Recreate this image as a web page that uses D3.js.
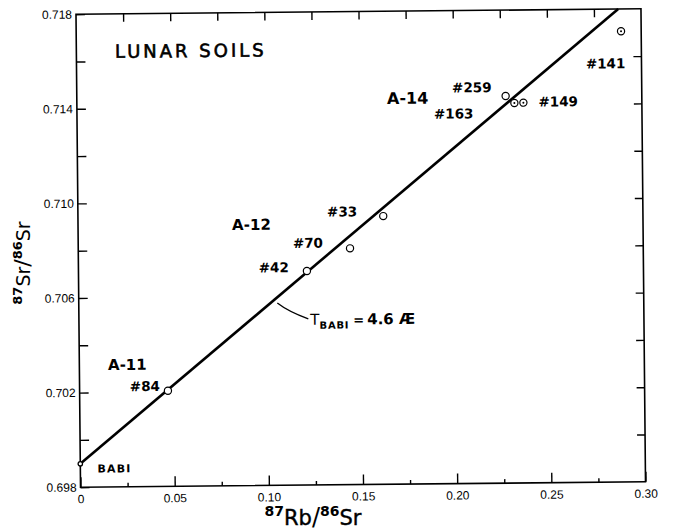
<!DOCTYPE html>
<html>
<head>
<meta charset="utf-8">
<script src="https://cdn.jsdelivr.net/npm/d3@7"></script>
<style>
  html, body { margin: 0; padding: 0; background: #fff; }
  svg { display: block; }
</style>
</head>
<body>
<svg id="chart" width="674" height="531"></svg>
<script>
// Lunar soil Rb–Sr data: 87Rb/86Sr vs 87Sr/86Sr
const sampleLabels = ["#84", "#42", "#70", "#33", "#259", "#163", "#149", "#141"];
const rbSr = [0.0469, 0.1213, 0.1443, 0.1621, 0.2277, 0.2323, 0.2371, 0.2893];
const srSr = [0.70204, 0.70705, 0.70799, 0.70934, 0.71437, 0.71407, 0.71408, 0.71706];
const dotted = [false, false, false, false, false, true, true, true];

// Basaltic achondrite best initial and the 4.6 Æ isochron
const babi = { rb: 0, sr: 0.69899, label: "BABI" };
const ageYears = 4.6e9;
const lambdaRb = 1.39e-11;

// Mission groups
const groupLabels = ["A-11", "A-12", "A-14"];
const groupX = [0.0152, 0.0818, 0.1647];
const groupY = [0.70294, 0.70881, 0.71408];

const xTicks = [0, 0.05, 0.10, 0.15, 0.20, 0.25, 0.30];
const xMinor = [0.025, 0.075, 0.125, 0.175, 0.225, 0.275];
const yTicks = [0.698, 0.702, 0.706, 0.710, 0.714, 0.718];
const yMinor = [0.700, 0.704, 0.708, 0.712, 0.716];

const W = 674, H = 531;
const frame = { left: 78.25, right: 643.25, top: 11.5, bottom: 484.5 };
const cx = (frame.left + frame.right) / 2, cy = (frame.top + frame.bottom) / 2;

const svg = d3.select("#chart");
const g = svg.append("g").attr("transform", `rotate(-0.55, ${cx}, ${cy})`);

const x = d3.scaleLinear().domain([0, 0.30]).range([frame.left, frame.right]);
const y = d3.scaleLinear().domain([0.698, 0.718]).range([frame.bottom, frame.top]);

const tickFont = "'Liberation Sans', Arial, sans-serif";

// Bottom axis: labelled major ticks plus short minor ticks, all pointing inward
g.append("g").attr("transform", `translate(0,${frame.bottom})`)
  .call(d3.axisBottom(x).tickValues(xTicks).tickSize(-10).tickPadding(7.5)
    .tickFormat(d => d === 0 ? "0" : d3.format(".2f")(d)));
g.append("g").attr("transform", `translate(0,${frame.bottom})`)
  .call(d3.axisBottom(x).tickValues(xMinor).tickSize(-4).tickFormat(""));

// Top axis: ticks every 0.025
g.append("g").attr("transform", `translate(0,${frame.top})`)
  .call(d3.axisTop(x).tickValues(xTicks.concat(xMinor).filter(v => v > 0 && v < 0.30)).tickSize(-8).tickFormat(""));

// Left axis
g.append("g").attr("transform", `translate(${frame.left},0)`)
  .call(d3.axisLeft(y).tickValues(yTicks).tickSize(-9).tickPadding(4).tickFormat(d3.format(".3f")));
g.append("g").attr("transform", `translate(${frame.left},0)`)
  .call(d3.axisLeft(y).tickValues(yMinor).tickSize(-9).tickFormat(""));

// Right axis: ticks every 0.002
g.append("g").attr("transform", `translate(${frame.right},0)`)
  .call(d3.axisRight(y).tickValues(yTicks.concat(yMinor).filter(v => v > 0.698 && v < 0.718)).tickSize(-8).tickFormat(""));

g.selectAll(".domain").remove();
g.selectAll(".tick line").attr("stroke", "#000").attr("stroke-width", 1.4);
g.selectAll(".tick text").attr("font-family", tickFont).attr("font-size", 12).attr("fill", "#000");

// Frame
g.append("rect")
  .attr("x", frame.left).attr("y", frame.top)
  .attr("width", frame.right - frame.left).attr("height", frame.bottom - frame.top)
  .attr("fill", "none").attr("stroke", "#000").attr("stroke-width", 1.6);

// Isochron through BABI
const slope = Math.exp(lambdaRb * ageYears) - 1;
const xEnd = (y.domain()[1] - babi.sr) / slope;
const lineGen = d3.line().x(d => x(d[0])).y(d => y(d[1]));
g.append("path")
  .attr("d", lineGen([[babi.rb, babi.sr], [xEnd, babi.sr + slope * xEnd]]))
  .attr("fill", "none").attr("stroke", "#000").attr("stroke-width", 2.6);

// Sample points
const pts = sampleLabels.map((l, i) => ({ label: l, rb: rbSr[i], sr: srSr[i], dot: dotted[i] }));
g.selectAll("circle.pt").data(pts).join("circle")
  .attr("class", "pt")
  .attr("cx", d => x(d.rb)).attr("cy", d => y(d.sr)).attr("r", 3.6)
  .attr("fill", "#fff").attr("stroke", "#000").attr("stroke-width", 1.2);
g.selectAll("circle.ctr").data(pts.filter(d => d.dot)).join("circle")
  .attr("class", "ctr")
  .attr("cx", d => x(d.rb)).attr("cy", d => y(d.sr)).attr("r", 1)
  .attr("fill", "#000");

// BABI point
g.append("circle").attr("cx", x(babi.rb)).attr("cy", y(babi.sr)).attr("r", 2.2)
  .attr("fill", "#fff").attr("stroke", "#000").attr("stroke-width", 1.3);

const labelFont = "'DejaVu Sans', sans-serif";

// Sample labels placed relative to their points
const labelOffsets = {
  "#84":  { dx: -8,  dy: 0,  anchor: "end" },
  "#42":  { dx: -18, dy: 1,  anchor: "end" },
  "#70":  { dx: -27, dy: -1, anchor: "end" },
  "#33":  { dx: -26, dy: 0,  anchor: "end" },
  "#259": { dx: -14, dy: -4, anchor: "end" },
  "#163": { dx: -41, dy: 15, anchor: "end" },
  "#149": { dx: 15,  dy: 4,  anchor: "start" },
  "#141": { dx: 4,   dy: 37, anchor: "end" }
};
g.selectAll("text.lbl").data(pts).join("text")
  .attr("class", "lbl")
  .attr("x", d => x(d.rb) + labelOffsets[d.label].dx)
  .attr("y", d => y(d.sr) + labelOffsets[d.label].dy)
  .attr("text-anchor", d => labelOffsets[d.label].anchor)
  .attr("font-family", labelFont).attr("font-weight", "bold").attr("font-size", 13.5)
  .text(d => d.label);

g.append("text")
  .attr("x", x(babi.rb) + 17).attr("y", y(babi.sr) + 9)
  .attr("font-family", labelFont).attr("font-weight", "bold").attr("font-size", 11)
  .attr("letter-spacing", 1.2)
  .text(babi.label);

// Mission group labels
g.selectAll("text.grp").data(groupLabels).join("text")
  .attr("class", "grp")
  .attr("x", (d, i) => x(groupX[i])).attr("y", (d, i) => y(groupY[i]))
  .attr("font-family", labelFont).attr("font-weight", "bold")
  .attr("font-size", (d, i) => i === 2 ? 16 : 15)
  .text(d => d);

// Title
g.append("text")
  .attr("x", x(0.0205)).attr("y", y(0.71614))
  .attr("font-family", labelFont).attr("font-size", 18).attr("letter-spacing", 3)
  .attr("stroke", "#000").attr("stroke-width", 0.6)
  .text("LUNAR SOILS");

// Age annotation with leader
const leader = d3.path();
leader.moveTo(x(0.1049) + 1, y(babi.sr + slope * 0.1049) + 5);
leader.quadraticCurveTo(x(0.1110), y(0.70535), x(0.1218), y(0.70502));
g.append("path").attr("d", leader.toString())
  .attr("fill", "none").attr("stroke", "#000").attr("stroke-width", 1.3);

const ann = g.append("text")
  .attr("x", x(0.1228)).attr("y", y(0.70477))
  .attr("font-family", labelFont).attr("font-size", 15);
ann.append("tspan").text("T");
ann.append("tspan").attr("dy", 4).attr("font-size", 10).attr("font-weight", "bold").attr("letter-spacing", 0.8).text("BABI");
ann.append("tspan").attr("dy", -4).attr("dx", 4).attr("font-size", 13).attr("font-weight", "bold").text("=");
ann.append("tspan").attr("dx", 3).attr("font-weight", "bold").text("4.6 Æ");

// Axis titles
const xt = svg.append("text")
  .attr("x", 313).attr("y", 525).attr("text-anchor", "middle")
  .attr("font-family", labelFont).attr("font-size", 21).attr("font-weight", "bold");
xt.append("tspan").attr("font-size", 14).attr("dy", -9).text("87");
xt.append("tspan").attr("dy", 9).attr("font-weight", "normal").attr("stroke", "#000").attr("stroke-width", 0.4).text("Rb");
xt.append("tspan").attr("font-weight", "normal").attr("font-size", 24).text("/");
xt.append("tspan").attr("font-size", 14).attr("dy", -9).text("86");
xt.append("tspan").attr("dy", 9).attr("font-weight", "normal").attr("stroke", "#000").attr("stroke-width", 0.4).text("Sr");

const yt = svg.append("text")
  .attr("transform", "translate(30,263) rotate(-90)").attr("text-anchor", "middle")
  .attr("font-family", labelFont).attr("font-size", 19);
yt.append("tspan").attr("font-size", 13).attr("font-weight", "bold").attr("dy", -8).text("87");
yt.append("tspan").attr("dy", 8).text("Sr");
yt.append("tspan").attr("font-size", 22).text("/");
yt.append("tspan").attr("font-size", 13).attr("font-weight", "bold").attr("dy", -8).text("86");
yt.append("tspan").attr("dy", 8).text("Sr");
</script>
</body>
</html>
